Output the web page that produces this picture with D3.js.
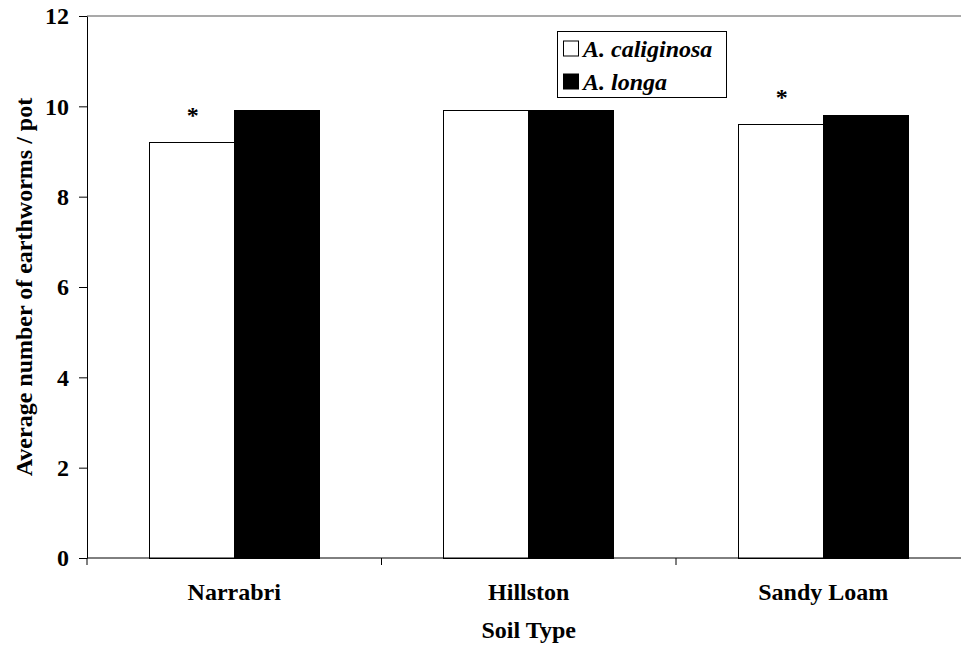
<!DOCTYPE html>
<html>
<head>
<meta charset="utf-8">
<script src="https://cdn.jsdelivr.net/npm/d3@7"></script>
<style>
  html, body { margin: 0; padding: 0; background: #fff; }
  svg { display: block; }
  text { font-family: "Liberation Serif", "Times New Roman", serif; font-weight: bold; font-size: 24px; fill: #000; }
</style>
</head>
<body>
<svg id="chart" width="961" height="650"></svg>
<script>
// Soil types along the x axis
const soilTypes = ["Narrabri", "Hillston", "Sandy Loam"];
// Earthworm species (legend order)
const species = ["A. caliginosa", "A. longa"];
// Average number of earthworms per pot, per soil type
const caliginosaValues = [9.2, 9.9, 9.6];
const longaValues = [9.9, 9.9, 9.8];
// Soil types where A. caliginosa is marked as significantly different
const significant = [true, false, true];
// Y axis ticks
const yTicks = [0, 2, 4, 6, 8, 10, 12];

const speciesFill = { "A. caliginosa": "#fff", "A. longa": "#000" };

const rows = soilTypes.map((s, i) => ({
  soil: s,
  sig: significant[i],
  values: [
    { sp: species[0], v: caliginosaValues[i] },
    { sp: species[1], v: longaValues[i] }
  ]
}));

const svg = d3.select("#chart");
const plotLeft = 87, plotRight = 970.5, plotTop = 16, plotBottom = 558;

const x = d3.scaleBand().domain(soilTypes).range([plotLeft, plotRight]).paddingInner(0).paddingOuter(0);
const xs = d3.scaleBand().domain(species).range([0, x.bandwidth()]).paddingInner(0).paddingOuter(0.73);
const y = d3.scaleLinear().domain([0, 12]).range([plotBottom, plotTop]);

// plot-area top border (gray)
svg.append("line")
  .attr("x1", plotLeft).attr("x2", plotRight)
  .attr("y1", y(12)).attr("y2", y(12))
  .attr("stroke", "#8c8c8c").attr("stroke-width", 1.5);

// bars
const groups = svg.append("g").selectAll("g").data(rows).join("g")
  .attr("transform", d => `translate(${x(d.soil)},0)`);

groups.selectAll("rect").data(d => d.values).join("rect")
  .attr("x", d => xs(d.sp))
  .attr("y", d => y(d.v))
  .attr("width", xs.bandwidth())
  .attr("height", d => y(0) - y(d.v))
  .attr("fill", d => speciesFill[d.sp])
  .attr("stroke", "#000").attr("stroke-width", 1)
  .attr("shape-rendering", "crispEdges");

// significance asterisks above A. caliginosa bars
groups.filter(d => d.sig).append("text")
  .attr("x", xs(species[0]) + xs.bandwidth() / 2 + 1)
  .attr("y", d => y(d.values[0].v) - 19)
  .attr("text-anchor", "middle")
  .text("*");

// y axis
const yAxis = svg.append("g")
  .attr("transform", `translate(${plotLeft},0)`)
  .call(d3.axisLeft(y).tickValues(yTicks).tickSize(8).tickPadding(10).tickSizeOuter(0));
yAxis.select(".domain").attr("stroke", "#000");
yAxis.selectAll(".tick line").attr("stroke", "#000");
yAxis.selectAll("text").attr("font-size", 24).attr("font-family", null).attr("dy", "0.33em");

// x axis: category boundaries ticked, labels centred in each band
const xAxis = svg.append("g").attr("transform", `translate(0,${plotBottom})`);
xAxis.append("line").attr("x1", plotLeft).attr("x2", plotRight).attr("y1", 0).attr("y2", 0)
  .attr("stroke", "#000");
const boundaries = soilTypes.map(s => x(s)).concat([x(soilTypes[soilTypes.length - 1]) + x.bandwidth()]);
xAxis.selectAll("line.tick").data(boundaries).join("line")
  .attr("class", "tick")
  .attr("x1", d => d).attr("x2", d => d).attr("y1", 0).attr("y2", 7)
  .attr("stroke", "#000");
xAxis.selectAll("text").data(soilTypes).join("text")
  .attr("x", d => x(d) + x.bandwidth() / 2)
  .attr("y", 42)
  .attr("text-anchor", "middle")
  .text(d => d);

// axis titles
svg.append("text")
  .attr("x", (plotLeft + plotRight) / 2).attr("y", 638)
  .attr("text-anchor", "middle")
  .text("Soil Type");
svg.append("text")
  .attr("transform", `translate(32,${(plotTop + plotBottom) / 2}) rotate(-90)`)
  .attr("text-anchor", "middle")
  .text("Average number of earthworms / pot");

// legend
const legend = svg.append("g").attr("transform", "translate(557,31)");
legend.append("rect").attr("x", 0).attr("y", 0).attr("width", 169).attr("height", 66)
  .attr("fill", "#fff").attr("stroke", "#000").attr("stroke-width", 1)
  .attr("shape-rendering", "crispEdges");
const items = legend.selectAll("g").data(species).join("g")
  .attr("transform", (d, i) => `translate(0,${i * 33})`);
items.append("rect")
  .attr("x", 6.5).attr("y", 10).attr("width", 15).attr("height", 15)
  .attr("fill", d => speciesFill[d]).attr("stroke", "#000").attr("stroke-width", 1);
items.append("text")
  .attr("x", 26).attr("y", 25.5)
  .attr("font-style", "italic")
  .text(d => d);
</script>
</body>
</html>
